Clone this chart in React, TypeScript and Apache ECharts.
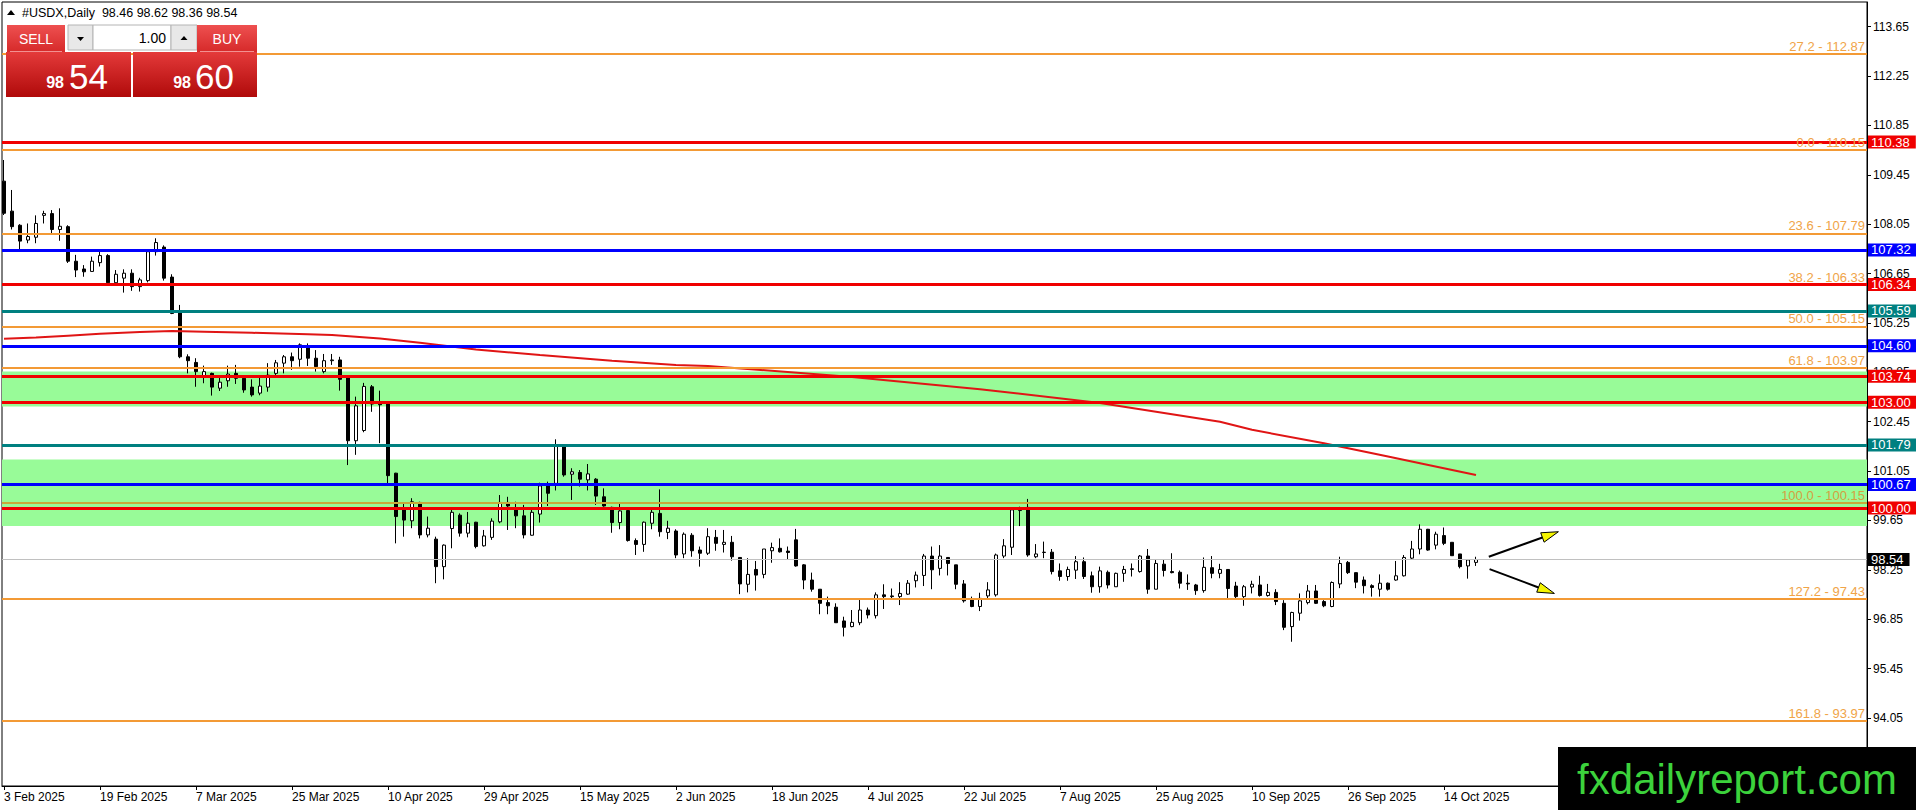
import React, { useEffect, useRef } from "react";
import * as echarts from "echarts";

const FONT = "Liberation Sans, Arial, sans-serif";

// x-axis date labels, one every LABEL_STEP bars starting at bar 0
const DATE_LABELS = [
  "3 Feb 2025", "19 Feb 2025", "7 Mar 2025", "25 Mar 2025", "10 Apr 2025", "29 Apr 2025",
  "15 May 2025", "2 Jun 2025", "18 Jun 2025", "4 Jul 2025", "22 Jul 2025", "7 Aug 2025",
  "25 Aug 2025", "10 Sep 2025", "26 Sep 2025", "14 Oct 2025",
];
const LABEL_STEP = 12;

// price axis tick labels
const PRICE_TICKS = [113.65, 112.25, 110.85, 109.45, 108.05, 106.65, 105.25, 103.85, 102.45, 101.05, 99.65, 98.25, 96.85, 95.45, 94.05];

// daily candles (USDX), bar 0 = 3 Feb 2025
const OPEN = [
  109.27, 108.42, 108.02, 107.6, 107.68, 108.3, 108.35, 107.9, 107.98, 107.0,
  106.78, 106.71, 106.96, 107.16, 106.39, 106.52, 106.66, 106.28, 106.45, 107.27,
  107.4, 106.55, 105.57, 104.29, 104.13, 103.73, 103.82, 103.4, 103.61, 103.82,
  103.68, 103.43, 103.26, 103.43, 103.82, 104.11, 104.29, 104.22, 104.6, 104.25,
  103.87, 104.18, 104.2, 103.73, 101.91, 102.2, 103.44, 102.97, 102.95, 100.99,
  99.99, 99.64, 100.16, 99.24, 99.12, 98.34, 99.42, 99.8, 99.29, 99.6,
  98.93, 99.17, 99.61, 100.16, 99.99, 99.78, 99.23, 99.83, 100.65, 100.7,
  101.77, 100.96, 101.01, 100.8, 100.82, 100.32, 100.02, 99.59, 99.93, 99.08,
  98.97, 99.57, 99.85, 99.31, 99.35, 98.7, 99.23, 98.81, 98.72, 99.17,
  98.97, 99.03, 98.6, 97.84, 98.26, 98.12, 98.79, 98.86, 98.78, 99.1,
  98.39, 97.96, 97.7, 97.32, 97.19, 96.8, 96.64, 96.75, 97.11, 96.95,
  97.54, 97.51, 97.49, 97.56, 97.94, 98.09, 98.64, 98.29, 98.6, 98.39,
  97.85, 97.4, 97.21, 97.51, 97.54, 98.64, 98.89, 99.93, 100.02, 98.62,
  98.74, 98.75, 98.22, 98.06, 98.24, 98.48, 98.08, 97.77, 98.18, 97.77,
  98.15, 98.26, 98.2, 98.64, 97.7, 98.41, 98.2, 98.18, 97.87, 97.82,
  97.66, 98.31, 98.15, 98.26, 97.79, 97.49, 97.76, 97.82, 97.52, 97.61,
  97.3, 96.64, 97.02, 97.32, 97.65, 97.35, 97.21, 97.85, 98.46, 98.17,
  97.96, 97.8, 97.7, 97.87, 97.96, 98.08, 98.58, 98.84, 99.4, 98.95,
  99.22, 99.03, 98.7, 98.36, 98.46,
];
const HIGH = [
  109.87, 109.02, 108.05, 108.07, 108.3, 108.43, 108.45, 108.5, 108.02, 107.18,
  106.89, 107.13, 107.29, 107.2, 106.75, 106.77, 106.77, 106.53, 107.3, 107.65,
  107.45, 106.63, 105.76, 104.36, 104.25, 104.04, 103.84, 103.7, 104.04, 104.06,
  103.73, 103.65, 103.77, 104.11, 104.2, 104.34, 104.41, 104.67, 104.67, 104.48,
  104.37, 104.37, 104.29, 103.75, 103.16, 103.55, 103.49, 103.33, 102.97, 101.0,
  100.13, 100.28, 100.18, 99.76, 99.19, 98.97, 99.95, 99.85, 99.89, 99.61,
  99.38, 99.71, 100.37, 100.32, 100.18, 100.09, 99.95, 100.72, 100.75, 101.95,
  101.8, 101.13, 101.08, 101.25, 100.85, 100.56, 100.04, 100.12, 99.95, 99.14,
  99.62, 99.95, 100.53, 99.64, 99.4, 99.31, 99.29, 98.91, 99.43, 99.38,
  99.38, 99.21, 98.61, 98.58, 98.5, 98.84, 99.02, 99.14, 98.91, 99.41,
  98.41, 98.17, 97.7, 97.49, 97.3, 96.92, 97.11, 97.42, 97.18, 97.61,
  97.84, 97.72, 97.9, 97.96, 98.2, 98.7, 98.91, 98.95, 98.61, 98.39,
  97.96, 97.49, 97.6, 97.9, 98.71, 99.12, 99.98, 100.04, 100.26, 98.98,
  99.05, 98.84, 98.43, 98.34, 98.64, 98.6, 98.2, 98.34, 98.23, 98.17,
  98.36, 98.43, 98.67, 98.84, 98.53, 98.53, 98.72, 98.23, 98.12, 97.85,
  98.6, 98.64, 98.42, 98.26, 97.91, 97.82, 97.94, 98.08, 97.85, 97.7,
  97.39, 97.06, 97.58, 97.82, 97.82, 97.39, 97.92, 98.62, 98.5, 98.17,
  98.06, 97.84, 98.12, 97.89, 98.5, 98.67, 99.07, 99.54, 99.41, 99.33,
  99.45, 99.03, 98.7, 98.53, 98.62,
];
const LOW = [
  108.31, 107.9, 107.27, 107.51, 107.51, 108.07, 107.77, 107.58, 106.95, 106.55,
  106.56, 106.7, 106.85, 106.35, 106.35, 106.11, 106.16, 106.14, 106.4, 107.16,
  106.45, 105.5, 104.25, 103.82, 103.44, 103.54, 103.19, 103.32, 103.44, 103.52,
  103.27, 103.16, 103.2, 103.3, 103.73, 103.82, 103.92, 104.01, 104.03, 103.87,
  103.82, 104.06, 103.33, 101.22, 101.51, 102.15, 102.73, 101.84, 100.7, 99.0,
  99.19, 99.43, 99.14, 99.17, 97.87, 97.98, 98.86, 99.19, 99.17, 98.86,
  98.91, 99.1, 99.57, 99.38, 99.43, 99.14, 99.22, 99.59, 100.06, 100.5,
  100.89, 100.23, 100.61, 100.5, 100.09, 100.04, 99.3, 99.4, 99.05, 98.67,
  98.76, 99.4, 99.19, 99.12, 98.58, 98.58, 98.62, 98.34, 98.67, 98.79,
  98.74, 98.51, 97.56, 97.61, 97.66, 98.01, 98.45, 98.74, 98.53, 98.34,
  97.7, 97.63, 96.99, 96.99, 96.75, 96.36, 96.62, 96.68, 96.87, 96.87,
  97.14, 97.4, 97.25, 97.54, 97.75, 97.79, 97.7, 98.09, 98.09, 97.7,
  97.32, 97.19, 97.08, 97.42, 97.49, 98.58, 98.67, 99.49, 98.62, 98.58,
  98.58, 98.12, 97.94, 97.94, 97.99, 97.99, 97.6, 97.6, 97.72, 97.77,
  97.91, 98.06, 98.17, 97.57, 97.7, 98.06, 98.15, 97.72, 97.68, 97.54,
  97.6, 98.01, 98.01, 97.4, 97.4, 97.23, 97.58, 97.49, 97.49, 97.25,
  96.54, 96.21, 96.81, 97.27, 97.28, 97.19, 97.19, 97.73, 98.13, 97.73,
  97.58, 97.49, 97.49, 97.66, 97.94, 98.06, 98.55, 98.69, 98.79, 98.83,
  98.95, 98.65, 98.29, 98.0, 98.36,
];
const CLOSE = [
  108.36, 107.98, 107.57, 107.7, 108.07, 108.35, 107.9, 107.99, 107.0, 106.75,
  106.7, 107.0, 107.16, 106.39, 106.63, 106.66, 106.28, 106.47, 107.27, 107.53,
  106.52, 105.52, 104.29, 104.18, 103.87, 103.87, 103.43, 103.57, 103.8, 103.68,
  103.35, 103.21, 103.46, 103.77, 104.12, 104.29, 104.18, 104.63, 104.25, 104.01,
  104.18, 104.2, 103.65, 101.91, 102.9, 103.45, 102.95, 102.93, 100.92, 99.76,
  99.66, 100.18, 99.24, 99.43, 98.34, 98.95, 99.88, 99.29, 99.57, 98.91,
  99.21, 99.63, 100.16, 100.06, 99.78, 99.24, 99.88, 100.63, 100.42, 101.77,
  100.94, 101.03, 100.82, 100.97, 100.34, 100.06, 99.59, 99.92, 99.08, 98.97,
  99.6, 99.88, 99.33, 99.43, 98.67, 99.26, 98.79, 98.72, 99.19, 99.0,
  99.03, 98.62, 97.85, 98.12, 98.1, 98.84, 98.88, 98.76, 98.74, 98.36,
  97.96, 97.7, 97.3, 97.23, 96.75, 96.62, 96.76, 97.11, 96.97, 97.54,
  97.49, 97.49, 97.58, 97.87, 98.1, 98.64, 98.25, 98.64, 98.43, 97.84,
  97.37, 97.21, 97.44, 97.68, 98.67, 98.93, 99.95, 99.98, 98.67, 98.7,
  98.75, 98.2, 98.06, 98.26, 98.48, 98.06, 97.77, 98.22, 97.82, 98.15,
  98.26, 98.28, 98.64, 97.7, 98.43, 98.23, 98.17, 97.87, 97.85, 97.66,
  98.32, 98.15, 98.26, 97.72, 97.49, 97.77, 97.84, 97.52, 97.61, 97.35,
  96.62, 97.04, 97.37, 97.65, 97.3, 97.23, 97.89, 98.43, 98.17, 97.9,
  97.8, 97.75, 97.87, 97.7, 98.08, 98.6, 98.84, 99.4, 98.81, 99.26,
  99.0, 98.65, 98.34, 98.53, 98.54,
];

// moving average (red curve), read at these bars
const MA_BARS = [0, 4, 8, 12, 17, 21, 25, 31, 38, 41, 47, 52, 59, 67, 76, 84, 88, 106, 122, 137, 152, 156, 165, 173, 177, 184];
const MA_VALUES = [104.8, 104.84, 104.89, 104.94, 104.99, 105.02, 105.0, 104.97, 104.93, 104.91, 104.81, 104.69, 104.5, 104.34, 104.18, 104.06, 104.03, 103.72, 103.37, 102.98, 102.45, 102.22, 101.84, 101.46, 101.27, 100.94];

// Fibonacci levels
const FIB_RATIOS = ["27.2", "0.0", "23.6", "38.2", "50.0", "61.8", "100.0", "127.2", "161.8"];
const FIB_PRICES = [112.87, 110.15, 107.79, 106.33, 105.15, 103.97, 100.15, 97.43, 93.97];

// horizontal support / resistance lines
const TEAL_LEVELS = [105.59, 101.79];
const BLUE_LEVELS = [107.32, 104.6, 100.67];
const RED_LEVELS = [110.38, 106.34, 103.74, 103.0, 100.0];
const LAST_PRICE = 98.54;

// green zones [top, bottom]
const ZONE_TOPS = [103.87, 101.38];
const ZONE_BOTTOMS = [102.88, 99.49];

// trade panel quotes
const BID = ["98", "54"];
const ASK = ["98", "60"];
const LOT = "1.00";

// annotation arrows [bar, price]
const ARROW_FROM = [[185.6, 98.62], [185.7, 98.27]];
const ARROW_TO = [[194.3, 99.33], [193.8, 97.58]];

const FIB_COLOR = "#F39A35";
const FIB_100_COLOR = "#C9AA3A";
const FIB_TEXT = "#F0A448";

function redGrad(top: string, bottom: string) {
  return new echarts.graphic.LinearGradient(0, 0, 0, 1, [
    { offset: 0, color: top },
    { offset: 1, color: bottom },
  ]);
}

function panelGraphics(): any[] {
  const last = OPEN.length - 1;
  const ohlc = [OPEN[last], HIGH[last], LOW[last], CLOSE[last]].map((v) => v.toFixed(2)).join(" ");
  const z = 100;
  const txt = (x: number, y: number, text: string, size: number, fill: string, align = "left", weight = "normal") => ({
    type: "text", x, y, z, silent: true,
    style: { text, fill, fontSize: size, fontFamily: FONT, fontWeight: weight, align, verticalAlign: "middle" },
  });
  return [
    { type: "polygon", z, silent: true, shape: { points: [[7, 15], [15, 15], [11, 10]] }, style: { fill: "#000" } },
    txt(22, 13, `#USDX,Daily  ${ohlc}`, 12.5, "#000"),
    // SELL button
    { type: "rect", z, silent: true, shape: { x: 7, y: 25, width: 58, height: 27 }, style: { fill: redGrad("#EE5050", "#D62A2A") } },
    { type: "line", z, silent: true, shape: { x1: 10, y1: 51.5, x2: 62, y2: 51.5 }, style: { stroke: "#F29090", lineWidth: 1 } },
    txt(36, 39, "SELL", 14, "#fff", "center"),
    // lot selector
    { type: "rect", z, silent: true, shape: { x: 68, y: 25, width: 25, height: 25 }, style: { fill: "#E8E8E8", stroke: "#B4B4B4", lineWidth: 1 } },
    { type: "polygon", z, silent: true, shape: { points: [[77, 37], [84, 37], [80.5, 41]] }, style: { fill: "#000" } },
    { type: "rect", z, silent: true, shape: { x: 93, y: 25, width: 78, height: 25 }, style: { fill: "#fff", stroke: "#B4B4B4", lineWidth: 1 } },
    txt(166, 38, LOT, 14, "#000", "right"),
    { type: "rect", z, silent: true, shape: { x: 171, y: 25, width: 26, height: 25 }, style: { fill: "#E8E8E8", stroke: "#B4B4B4", lineWidth: 1 } },
    { type: "polygon", z, silent: true, shape: { points: [[180.5, 40], [187.5, 40], [184, 36]] }, style: { fill: "#000" } },
    // BUY button
    { type: "rect", z, silent: true, shape: { x: 197, y: 25, width: 60, height: 27 }, style: { fill: redGrad("#EE5050", "#D62A2A") } },
    { type: "line", z, silent: true, shape: { x1: 200, y1: 51.5, x2: 254, y2: 51.5 }, style: { stroke: "#F29090", lineWidth: 1 } },
    txt(227, 39, "BUY", 14, "#fff", "center"),
    // big quote boxes
    { type: "rect", z, silent: true, shape: { x: 6, y: 52, width: 125, height: 45 }, style: { fill: redGrad("#E43A3A", "#B00A0A") } },
    { type: "rect", z, silent: true, shape: { x: 133, y: 52, width: 124, height: 45 }, style: { fill: redGrad("#E43A3A", "#B00A0A") } },
    txt(64, 82, BID[0], 16, "#fff", "right", "bold"),
    txt(69, 76, BID[1], 35, "#fff", "left"),
    txt(191, 82, ASK[0], 16, "#fff", "right", "bold"),
    txt(195, 76, ASK[1], 35, "#fff", "left"),
  ];
}

export default function App() {
  const ref = useRef<HTMLDivElement>(null);

  useEffect(() => {
    const el = ref.current;
    if (!el) return;
    const chart = echarts.init(el, undefined, { renderer: "svg" });

    const candles = OPEN.map((o, i) => [i, o, CLOSE[i], LOW[i], HIGH[i]]);
    const maData = MA_BARS.map((b, k) => [b, MA_VALUES[k]]);
    const dateTicks = DATE_LABELS.map((_, k) => k * LABEL_STEP);

    const boxLabel = (text: string, bg: string) => ({
      show: true, position: "end", formatter: text, color: "#fff", backgroundColor: bg,
      fontSize: 13, lineHeight: 12, fontFamily: FONT, padding: [1, 6, 0, 3], distance: 1,
    });

    const boxLine = (price: number, color: string) => ({
      yAxis: price,
      lineStyle: { color, width: 3, type: "solid" },
      label: boxLabel(price.toFixed(2), color),
    });

    const fibLines = FIB_PRICES.map((p, k) => ({
      yAxis: p,
      lineStyle: { color: FIB_RATIOS[k] === "100.0" ? FIB_100_COLOR : FIB_COLOR, width: 2, type: "solid" },
      label: {
        show: true, position: "insideEndTop", formatter: `${FIB_RATIOS[k]} - ${p.toFixed(2)}`,
        color: FIB_RATIOS[k] === "100.0" ? "#D4A040" : FIB_TEXT, fontSize: 13, fontFamily: FONT, distance: [2, 1],
      },
    }));

    const lastLine = {
      yAxis: LAST_PRICE,
      lineStyle: { color: "#C0C0C0", width: 1, type: "solid" },
      label: boxLabel(LAST_PRICE.toFixed(2), "#000"),
    };

    const option: any = {
      animation: false,
      backgroundColor: "#fff",
      textStyle: { fontFamily: FONT },
      grid: { left: 2, top: 2, width: 1865, height: 784, show: true, borderColor: "#000", borderWidth: 1, backgroundColor: "#fff" },
      xAxis: {
        type: "value", min: -0.25, max: 232.875,
        axisLine: { show: true, onZero: false, lineStyle: { color: "#000", width: 1 } },
        axisTick: { show: true, customValues: dateTicks, length: 4, lineStyle: { color: "#000" } },
        axisLabel: {
          customValues: dateTicks, formatter: (v: number) => DATE_LABELS[Math.round(v / LABEL_STEP)] ?? "",
          align: "left", color: "#000", fontSize: 12, fontFamily: FONT, margin: 5,
        },
        splitLine: { show: false },
      },
      yAxis: {
        type: "value", position: "right", min: 92.12, max: 114.35,
        axisLine: { show: true, onZero: false, lineStyle: { color: "#000", width: 1 } },
        axisTick: { show: true, customValues: PRICE_TICKS, length: 4, lineStyle: { color: "#000" } },
        axisLabel: { customValues: PRICE_TICKS, formatter: (v: number) => v.toFixed(2), color: "#000", fontSize: 12, fontFamily: FONT, margin: 6 },
        splitLine: { show: false },
      },
      series: [
        {
          type: "candlestick",
          data: candles,
          barWidth: 4,
          clip: false,
          silent: true,
          z: 3,
          itemStyle: { color: "#fff", color0: "#000", borderColor: "#000", borderColor0: "#000", borderColorDoji: "#000", borderWidth: 1 },
          markArea: {
            silent: true,
            itemStyle: { color: "#98FB98", opacity: 1 },
            data: ZONE_TOPS.map((t, k) => [{ yAxis: t }, { yAxis: ZONE_BOTTOMS[k] }]),
          },
          markLine: {
            silent: true,
            symbol: ["none", "none"],
            animation: false,
            data: [
              ...fibLines,
              lastLine,
              ...TEAL_LEVELS.map((p) => boxLine(p, "#008080")),
              ...BLUE_LEVELS.map((p) => boxLine(p, "#0000FF")),
              ...RED_LEVELS.map((p) => boxLine(p, "#F00000")),
            ],
          },
        },
        {
          type: "line",
          data: maData,
          symbol: "none",
          silent: true,
          z: 4,
          lineStyle: { color: "#E01515", width: 2 },
        },
      ],
    };

    chart.setOption(option);

    const toPx = (p: number[]) => chart.convertToPixel({ gridIndex: 0 }, p) as number[];
    const arrows: any[] = [];
    ARROW_FROM.forEach((f, k) => {
      const a = toPx(f);
      const b = toPx(ARROW_TO[k]);
      const dx = b[0] - a[0];
      const dy = b[1] - a[1];
      const len = Math.hypot(dx, dy);
      const ux = dx / len;
      const uy = dy / len;
      const hl = 17;
      const hw = 5;
      const bx = b[0] - ux * hl;
      const by = b[1] - uy * hl;
      arrows.push({ type: "line", z: 50, silent: true, shape: { x1: a[0], y1: a[1], x2: bx, y2: by }, style: { stroke: "#000", lineWidth: 2 } });
      arrows.push({
        type: "polygon", z: 51, silent: true,
        shape: { points: [[b[0], b[1]], [bx - uy * hw, by + ux * hw], [bx + uy * hw, by - ux * hw]] },
        style: { fill: "#F5F500", stroke: "#000", lineWidth: 1 },
      });
    });

    const watermark = [
      { type: "rect", z: 120, silent: true, shape: { x: 1558, y: 747, width: 358, height: 63 }, style: { fill: "#000" } },
      {
        type: "text", z: 121, silent: true, x: 1737, y: 779,
        style: { text: "fxdailyreport.com", fill: "#3CD23C", fontSize: 42, fontFamily: FONT, align: "center", verticalAlign: "middle" },
      },
    ];

    chart.setOption({ graphic: [...panelGraphics(), ...arrows, ...watermark] });

    return () => chart.dispose();
  }, []);

  return <div ref={ref} style={{ position: "fixed", left: 0, top: 0, width: 1916, height: 810, background: "#fff" }} />;
}
